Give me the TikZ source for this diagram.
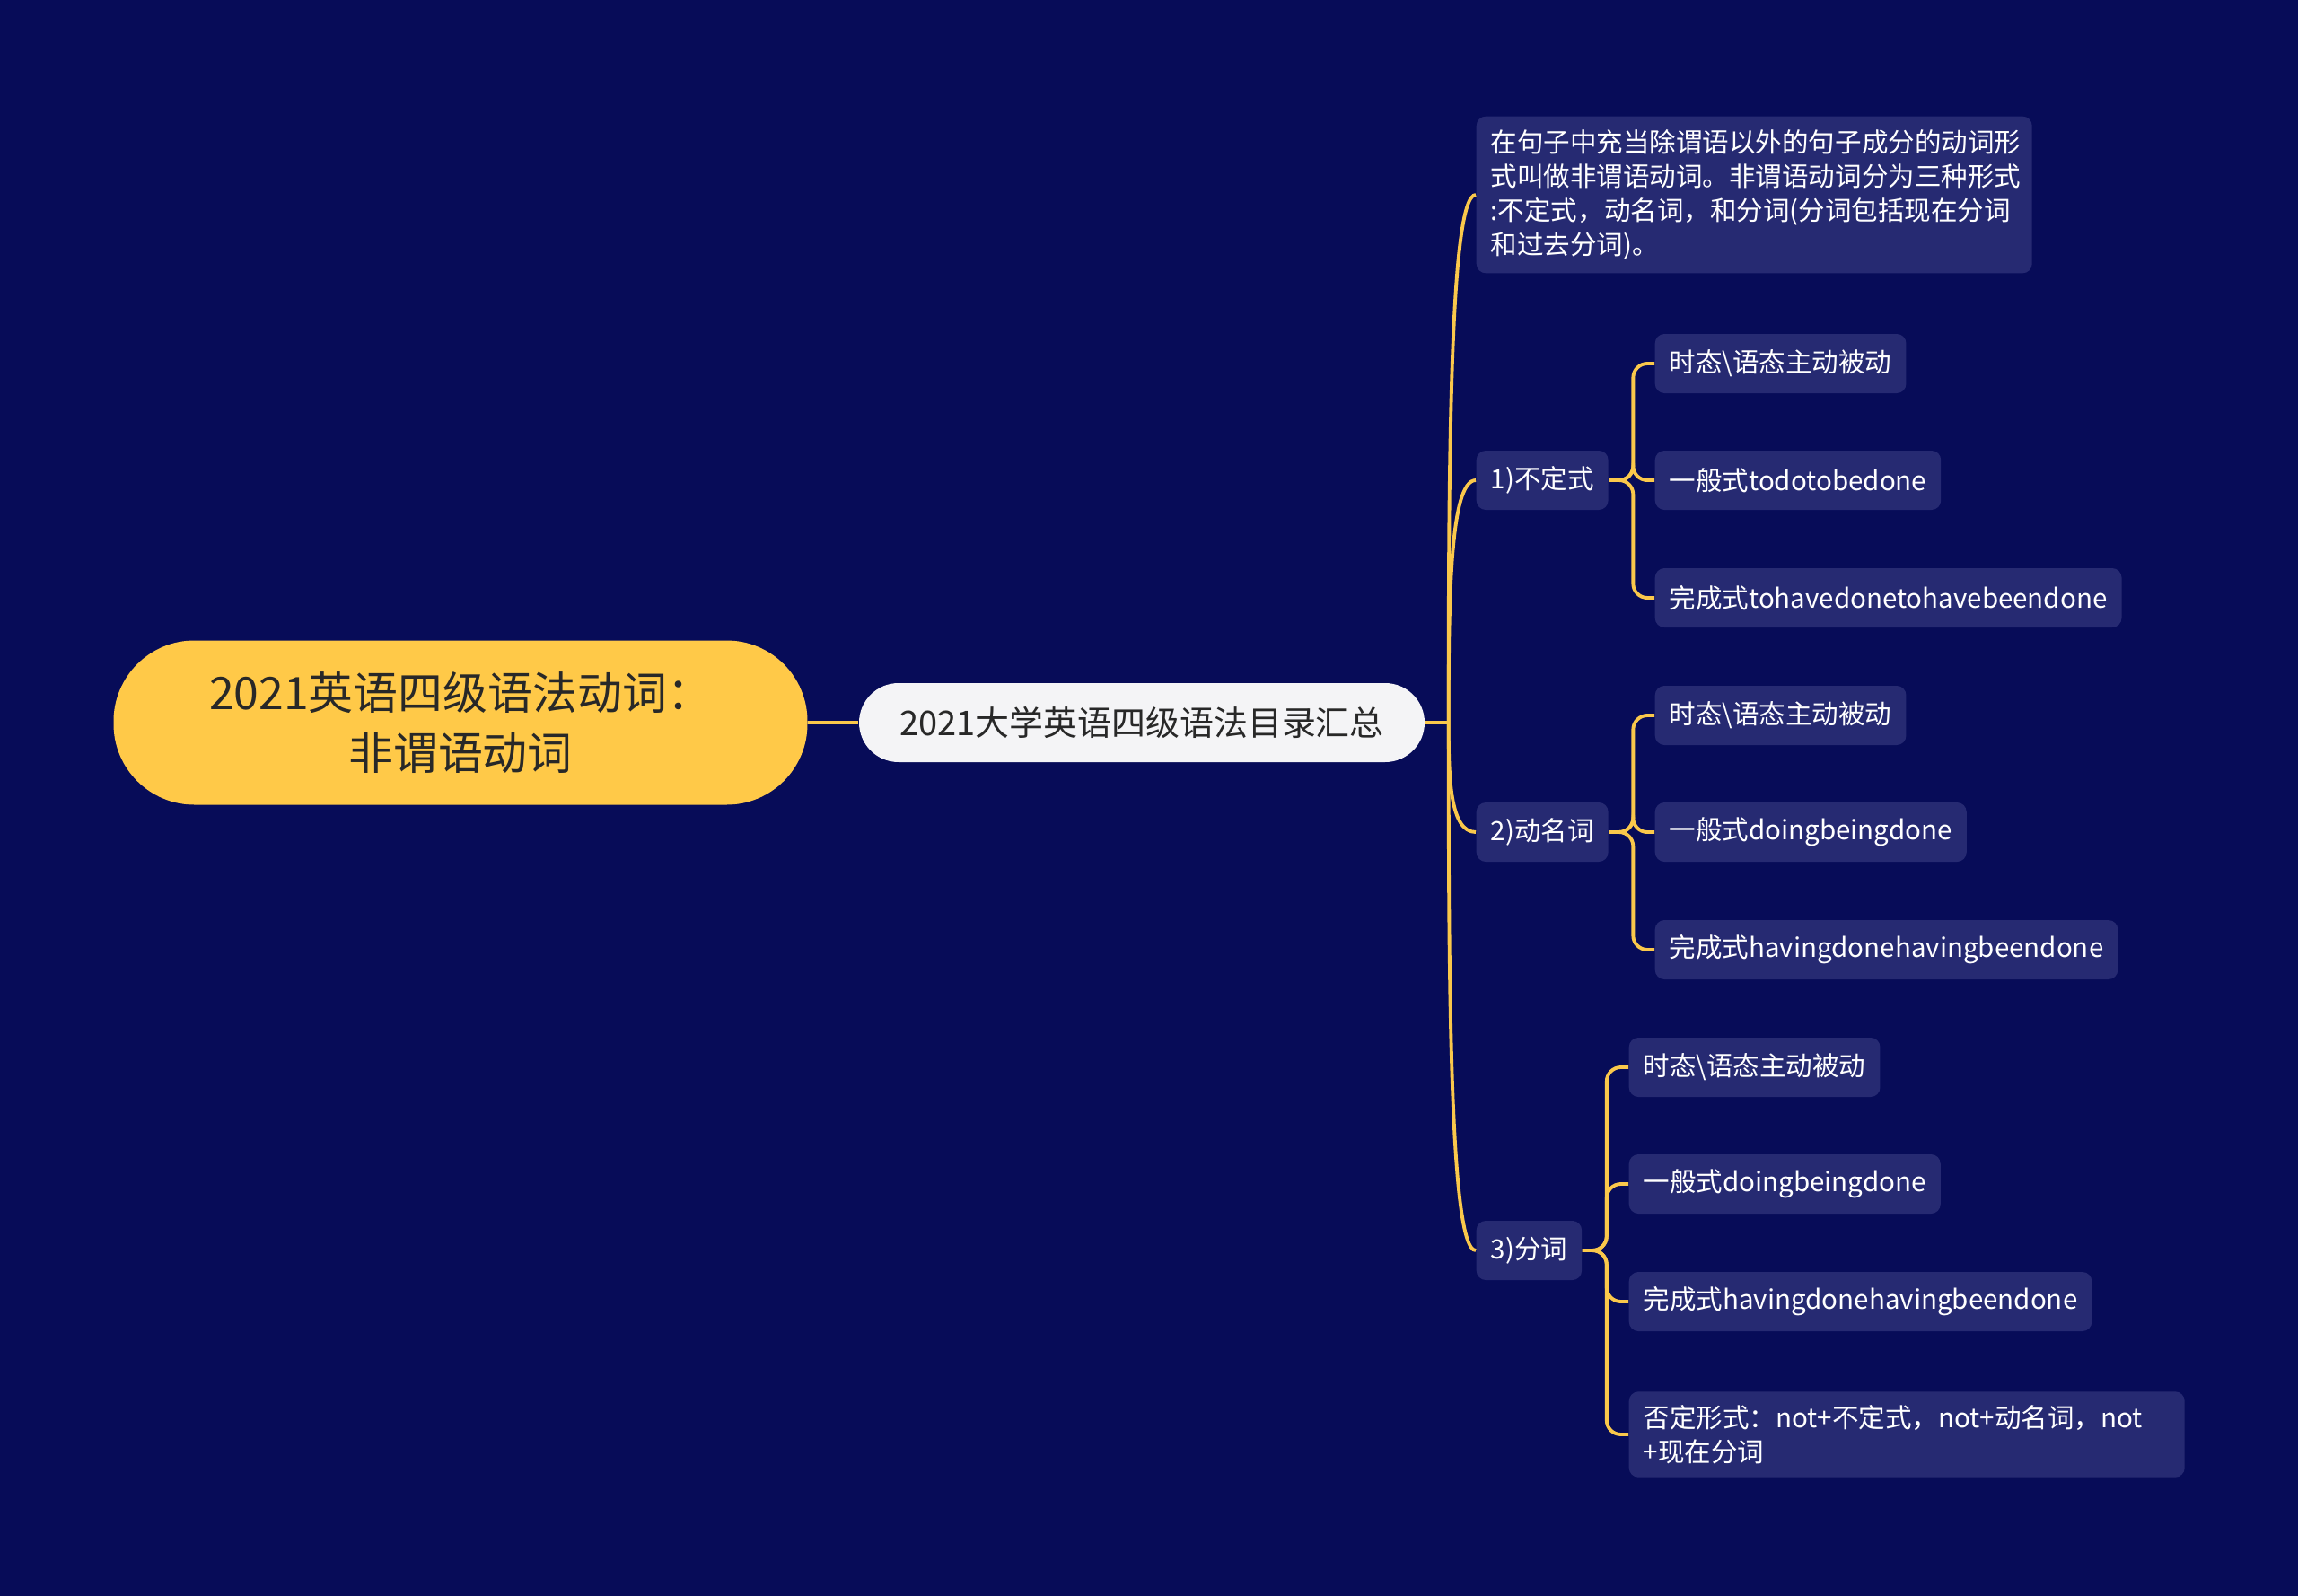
\documentclass[tikz,border=0pt]{standalone}
\usepackage{fontspec}
\setmainfont{Noto Sans CJK SC}
\usepackage{tikz}
\usepackage{xcolor}
\usetikzlibrary{positioning}
\definecolor{navybg}{RGB}{7,12,88}
\definecolor{subfill}{RGB}{38,42,114}
\definecolor{rootgold}{RGB}{255,201,72}
\definecolor{linegold}{RGB}{250,200,75}
\definecolor{topicgray}{RGB}{244,244,246}
\definecolor{darktext}{RGB}{40,40,40}

\begin{document}
\begin{tikzpicture}[
    base/.style={align=center, inner sep=0pt},
    rootbox/.style={base, fill=rootgold, text=darktext, minimum width=7.73cm,
                    minimum height=1.83cm, rounded corners=0.9cm,
                    font=\fontsize{14.2}{19}\selectfont},
    topicbox/.style={base, fill=topicgray, text=darktext, minimum width=6.30cm,
                     minimum height=0.88cm, rounded corners=0.44cm,
                     font=\fontsize{10.8}{13}\selectfont},
    subbox/.style={base, anchor=west, fill=subfill, text=white, rounded corners=3pt,
                   minimum height=0.66cm, inner xsep=0.16cm,
                   font=\fontsize{8.4}{10.8}\selectfont},
    notebox/.style={subbox, align=left, text width=5.87cm, inner ysep=0.15cm},
    link/.style={draw=linegold, line width=1.1pt},
    fork/.style={link, rounded corners=4.5pt}]

    % background and page size
    \fill[navybg] (0,0) rectangle (25.6,-17.78);
    \useasboundingbox (0,0) rectangle (25.6,-17.78);

    % root and topic
    \node[rootbox]  (root)  at (5.13,-8.05) {2021英语四级语法动词：\\非谓语动词};
    \node[topicbox] (topic) at (12.72,-8.05) {2021大学英语四级语法目录汇总};
    \draw[link] (root.east) -- (topic.west);

    % second level
    \node[notebox] (desc) at (16.44,-2.17) {在句子中充当除谓语以外的句子成分的动词形\\式叫做非谓语动词。非谓语动词分为三种形式\\:不定式，动名词，和分词(分词包括现在分词\\和过去分词)。};
    \node[subbox] (inf)  at (16.44,-5.35)  {1)不定式};
    \node[subbox] (ger)  at (16.44,-9.27)  {2)动名词};
    \node[subbox] (part) at (16.44,-13.93) {3)分词};
    \coordinate[right=0.26cm of topic.east] (hub);
    \draw[link] (topic.east) -- (hub);
    \foreach \n/\d in {desc/2.94, inf/1.35, ger/-0.61, part/-2.94}
      \draw[link] (hub) .. controls +(0,\d) and +(-0.29,0) .. (\n.west);

    % 1) infinitive
    \node[subbox] (inf1) at (18.43,-4.05) {时态\textbackslash{}语态主动被动};
    \node[subbox] (inf2) at (18.43,-5.35) {一般式todotobedone};
    \node[subbox] (inf3) at (18.43,-6.66) {完成式tohavedonetohavebeendone};
    \foreach \n in {inf1,inf2,inf3}
      \draw[fork] (inf.east) -- ++(0.27,0) |- (\n.west);

    % 2) gerund
    \node[subbox] (ger1) at (18.43,-7.97)  {时态\textbackslash{}语态主动被动};
    \node[subbox] (ger2) at (18.43,-9.27)  {一般式doingbeingdone};
    \node[subbox] (ger3) at (18.43,-10.58) {完成式havingdonehavingbeendone};
    \foreach \n in {ger1,ger2,ger3}
      \draw[fork] (ger.east) -- ++(0.27,0) |- (\n.west);

    % 3) participle
    \node[subbox]  (part1) at (18.14,-11.89) {时态\textbackslash{}语态主动被动};
    \node[subbox]  (part2) at (18.14,-13.19) {一般式doingbeingdone};
    \node[subbox]  (part3) at (18.14,-14.50) {完成式havingdonehavingbeendone};
    \node[notebox] (part4) at (18.14,-15.98) {否定形式：not+不定式，not+动名词，not\\+现在分词};
    \foreach \n in {part1,part2,part3,part4}
      \draw[fork] (part.east) -- ++(0.27,0) |- (\n.west);
\end{tikzpicture}
\end{document}
